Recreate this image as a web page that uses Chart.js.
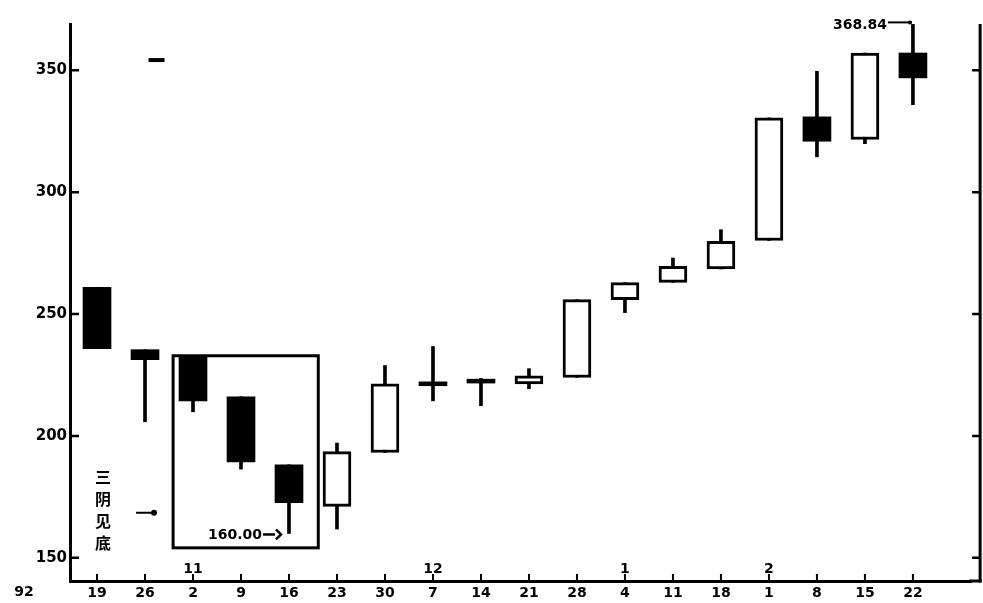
<!DOCTYPE html>
<html><head><meta charset="utf-8">
<script src="https://cdn.jsdelivr.net/npm/chart.js@4.4.1/dist/chart.umd.min.js"></script>
<style>html,body{margin:0;padding:0;background:#fff;overflow:hidden;}#wrap{width:983px;height:603px;position:relative;}canvas{display:block;}</style>
</head><body><div id="wrap"><canvas id="c"></canvas></div>
<script>
// ---- data ----
const yearLabel = '92';
const dayLabels = ['19','26','2','9','16','23','30','7','14','21','28','4','11','18','1','8','15','22'];
const monthLabels = ['','','11','','','','','12','','','','1','','','2','','',''];
const openVals  = [261.0, 235.4, 232.5, 216.1, 188.2, 171.1, 193.2, 222.2, 223.3, 221.4, 224.0, 255.9, 263.0, 268.5, 280.2, 330.9, 321.6, 357.1];
const closeVals = [235.8, 231.3, 214.4, 189.4, 172.6, 193.6, 221.4, 220.6, 221.7, 224.7, 255.9, 262.9, 269.6, 279.8, 330.5, 320.9, 357.1, 346.9];
const highVals  = [261.0, 235.4, 232.5, 216.1, 188.2, 197.1, 228.9, 236.7, 223.6, 227.6, 255.9, 262.9, 273.0, 284.6, 330.5, 349.6, 357.1, 368.84];
const lowVals   = [235.8, 205.8, 209.9, 186.4, 160.0, 161.8, 193.2, 214.4, 212.4, 219.4, 224.0, 250.6, 263.0, 268.5, 280.2, 314.5, 319.9, 335.9];
const yTickValues = [150, 200, 250, 300, 350];
const strayMarks = [{x: 1.24, y: 354.2}];
const lowNote = {index: 4, value: 160.00, text: '160.00'};
const highNote = {index: 17, value: 368.84, text: '368.84'};
const patternBox = {x: [1.585, 4.61], y: [154.1, 232.9]};
const patternText = {chars: ['三','阴','见','底'], x: 0.125, y: [183.2, 174.2, 165.2, 156.2], arrowX: [0.814, 1.25], arrowY: 168.5};
const yearPos = -1.52;
const frameRightValue = 18.40;

const wickData = dayLabels.map((_, i) => ({x: i, y: [lowVals[i], highVals[i]]}));
const bodyData = dayLabels.map((_, i) => ({x: i, y: [openVals[i], closeVals[i]]}));
const isUp = i => closeVals[i] > openVals[i];

const extras = {
  id: 'extras',
  afterDraw(chart) {
    const {ctx, chartArea: a, scales: {x, y}} = chart;
    const fr = Math.max(a.right, x.getPixelForValue(frameRightValue));
    ctx.save();
    ctx.strokeStyle = '#000'; ctx.fillStyle = '#000';
    // right frame line + bottom extension
    ctx.lineWidth = 3;
    ctx.beginPath(); ctx.moveTo(fr, a.top); ctx.lineTo(fr, a.bottom + 1.5); ctx.stroke();
    ctx.beginPath(); ctx.moveTo(a.right - 2, a.bottom); ctx.lineTo(fr + 1.5, a.bottom); ctx.stroke();
    // inside y ticks
    ctx.lineWidth = 2.5;
    yTickValues.forEach(v => {
      const py = y.getPixelForValue(v);
      ctx.beginPath();
      ctx.moveTo(a.left, py); ctx.lineTo(a.left + 9, py);
      ctx.moveTo(fr, py); ctx.lineTo(fr - 8, py);
      ctx.stroke();
    });
    // x ticks upward
    ctx.lineWidth = 2;
    dayLabels.forEach((_, i) => {
      const px = x.getPixelForValue(i);
      ctx.beginPath(); ctx.moveTo(px, a.bottom); ctx.lineTo(px, a.bottom - 7); ctx.stroke();
    });
    // month labels & year
    ctx.font = 'bold 14px "DejaVu Sans"';
    ctx.textAlign = 'center'; ctx.textBaseline = 'middle';
    monthLabels.forEach((m, i) => { if (m) ctx.fillText(m, x.getPixelForValue(i), a.bottom - 12); });
    ctx.fillText(yearLabel, x.getPixelForValue(yearPos), a.bottom + 11);
    // pattern box
    ctx.lineWidth = 3;
    const bx0 = x.getPixelForValue(patternBox.x[0]), bx1 = x.getPixelForValue(patternBox.x[1]);
    const by0 = y.getPixelForValue(patternBox.y[1]), by1 = y.getPixelForValue(patternBox.y[0]);
    ctx.strokeRect(bx0, by0, bx1 - bx0, by1 - by0);
    // low note
    const lx = x.getPixelForValue(lowNote.index), ly = y.getPixelForValue(lowNote.value);
    ctx.textAlign = 'right';
    ctx.fillText(lowNote.text, lx - 27, ly + 2);
    ctx.lineWidth = 2.5;
    ctx.beginPath(); ctx.moveTo(lx - 26, ly + 1); ctx.lineTo(lx - 14, ly + 1); ctx.stroke();
    ctx.beginPath(); ctx.moveTo(lx - 13, ly - 4); ctx.lineTo(lx - 8, ly + 1); ctx.lineTo(lx - 13, ly + 6); ctx.stroke();
    // high note
    const hx = x.getPixelForValue(highNote.index), hy = y.getPixelForValue(highNote.value);
    ctx.fillText(highNote.text, hx - 26, hy + 1);
    ctx.lineWidth = 2;
    ctx.beginPath(); ctx.moveTo(hx - 25, hy - 2); ctx.lineTo(hx - 1, hy - 2); ctx.stroke();
    ctx.beginPath(); ctx.arc(hx - 3, hy - 2, 2, 0, Math.PI * 2); ctx.fill();
    // pattern text
    ctx.font = 'bold 16px "Noto Sans CJK SC"';
    ctx.textAlign = 'center';
    patternText.chars.forEach((c, k) => ctx.fillText(c, x.getPixelForValue(patternText.x), y.getPixelForValue(patternText.y[k])));
    const ax0 = x.getPixelForValue(patternText.arrowX[0]), ax1 = x.getPixelForValue(patternText.arrowX[1]);
    const ay = y.getPixelForValue(patternText.arrowY);
    ctx.lineWidth = 2;
    ctx.beginPath(); ctx.moveTo(ax0, ay); ctx.lineTo(ax1 - 3, ay); ctx.stroke();
    ctx.beginPath(); ctx.arc(ax1 - 3, ay, 3, 0, Math.PI * 2); ctx.fill();
    ctx.restore();
  }
};

new Chart(document.getElementById('c'), {
  type: 'bar',
  data: {
    datasets: [
      {
        label: 'wick', data: wickData, order: 2, grouped: false,
        barThickness: 3, backgroundColor: '#000', borderWidth: 0, borderSkipped: false
      },
      {
        label: 'body', data: bodyData, order: 1, grouped: false,
        barThickness: 28,
        backgroundColor: ctx => isUp(ctx.dataIndex) ? '#fff' : '#000',
        borderColor: '#000',
        borderWidth: ctx => isUp(ctx.dataIndex) ? 3 : 0,
        borderSkipped: false
      },
      {
        type: 'scatter', label: 'mark', data: strayMarks, order: 0,
        pointStyle: 'line', radius: 8, borderWidth: 4, borderColor: '#000', backgroundColor: '#000'
      }
    ]
  },
  options: {
    responsive: true, maintainAspectRatio: false, animation: false,
    layout: {padding: {top: 24, right: 4, left: 0, bottom: 0}},
    plugins: {legend: {display: false}, tooltip: {enabled: false}},
    scales: {
      x: {
        type: 'linear', min: -0.563, max: 18.21, offset: false,
        afterBuildTicks: s => { s.ticks = dayLabels.map((_, i) => ({value: i})); },
        afterFit: s => { s.height = 22; },
        grid: {display: false, drawTicks: false, offset: false},
        border: {display: true, width: 3, color: '#000'},
        ticks: {
          autoSkip: false, maxRotation: 0, padding: 4, color: '#000',
          font: {family: 'DejaVu Sans', weight: 'bold', size: 14},
          callback: v => dayLabels[v] ?? ''
        }
      },
      y: {
        min: 140.5, max: 369,
        afterBuildTicks: s => { s.ticks = yTickValues.map(v => ({value: v})); },
        afterFit: s => { s.width = 70; },
        grid: {display: false, drawTicks: false},
        border: {display: true, width: 3, color: '#000'},
        ticks: {
          padding: 3, color: '#000',
          font: {family: 'DejaVu Sans', weight: 'bold', size: 15},
          callback: v => String(v)
        }
      }
    }
  },
  plugins: [extras]
});
</script>
</body></html>
